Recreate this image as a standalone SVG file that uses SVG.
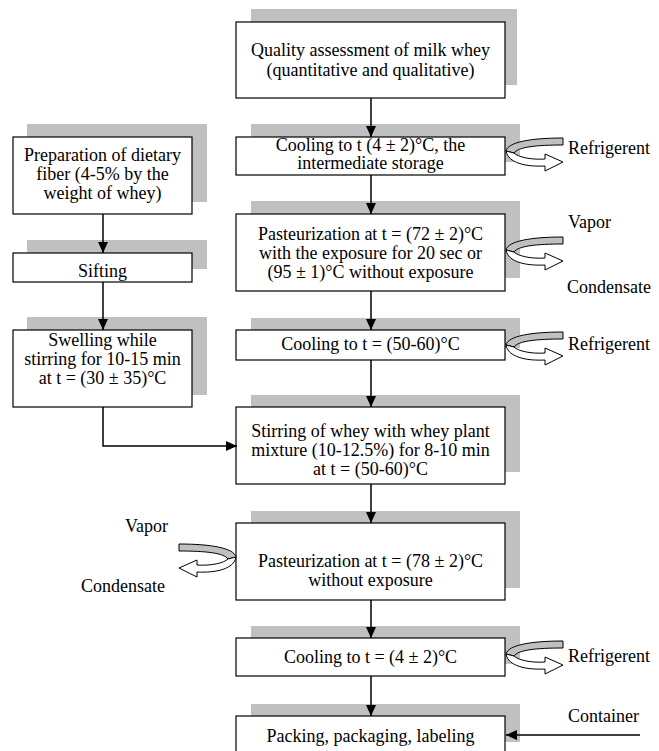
<svg xmlns="http://www.w3.org/2000/svg" xmlns:xlink="http://www.w3.org/1999/xlink" width="659" height="751" viewBox="0 0 659 751">
<style>
.sh{fill:#c0c0c0;stroke:none}
.bx{fill:#fff;stroke:#000;stroke-width:1.2}
.t{font-family:"Liberation Serif","Times New Roman",serif;font-size:18px;fill:#000}
.m{text-anchor:middle}
.e{text-anchor:end}
.c{fill:none;stroke:#000;stroke-width:1.5}
</style>
<defs>
<marker id="ah" markerUnits="userSpaceOnUse" markerWidth="12" markerHeight="12" viewBox="0 0 12 12" refX="11" refY="6" orient="auto">
<path d="M0,1 L11,6 L0,11 Z" fill="#000"/>
</marker>
<g id="curl" stroke="#000" stroke-width="1" stroke-linejoin="round">
<path d="M57,-13 C25,-13 2,-9 0,0 L8,2 C12,-4 30,-6 57,-6 Z" fill="#c0c0c0"/>
<path d="M0,0 C2,12 20,16 39,15 L39,20 L57,11 L39,3 L39,8 C25,9 12,6 8,2 Z" fill="#fff"/>
</g>
</defs>
<rect width="659" height="751" fill="#fff"/>

<g id="quality">
<rect class="sh" x="251" y="9" width="266" height="76"/>
<rect class="bx" x="236" y="22" width="269" height="76"/>
<text class="t m" x="370.5" y="56">Quality assessment of milk whey</text>
<text class="t m" x="370.5" y="76">(quantitative and qualitative)</text>
</g>

<g id="cooling1">
<rect class="sh" x="251" y="124" width="269" height="38"/>
<rect class="bx" x="236" y="137" width="269" height="38"/>
<text class="t m" x="370.5" y="151">Cooling to t (4 ± 2)°C, the</text>
<text class="t m" x="370.5" y="169">intermediate storage</text>
</g>

<g id="past1">
<rect class="sh" x="251" y="201" width="269" height="77"/>
<rect class="bx" x="236" y="214" width="269" height="77"/>
<text class="t m" x="370.5" y="240">Pasteurization at t = (72 ± 2)°C</text>
<text class="t m" x="370.5" y="259">with the exposure for 20 sec or</text>
<text class="t m" x="370.5" y="278">(95 ± 1)°C without exposure</text>
</g>

<g id="cooling2">
<rect class="sh" x="251" y="318" width="269" height="30"/>
<rect class="bx" x="236" y="330" width="269" height="30"/>
<text class="t m" x="370.5" y="350">Cooling to t = (50-60)°C</text>
</g>

<g id="stirring">
<rect class="sh" x="251" y="395" width="269" height="77"/>
<rect class="bx" x="236" y="407" width="269" height="77"/>
<text class="t m" x="370.5" y="437">Stirring of whey with whey plant</text>
<text class="t m" x="370.5" y="456">mixture (10-12.5%) for 8-10 min</text>
<text class="t m" x="370.5" y="475">at t = (50-60)°C</text>
</g>

<g id="past2">
<rect class="sh" x="251" y="511" width="269" height="77"/>
<rect class="bx" x="236" y="523" width="269" height="77"/>
<text class="t m" x="370.5" y="567">Pasteurization at t = (78 ± 2)°C</text>
<text class="t m" x="370.5" y="586">without exposure</text>
</g>

<g id="cooling3">
<rect class="sh" x="251" y="626" width="269" height="38"/>
<rect class="bx" x="236" y="638" width="269" height="38"/>
<text class="t m" x="370.5" y="663">Cooling to t = (4 ± 2)°C</text>
</g>

<g id="packing">
<rect class="sh" x="251" y="704" width="269" height="38"/>
<rect class="bx" x="236" y="716" width="269" height="40"/>
<text class="t m" x="370.5" y="742">Packing, packaging, labeling</text>
</g>

<g id="fiber">
<rect class="sh" x="27" y="124" width="180" height="78"/>
<rect class="bx" x="13" y="137" width="179" height="77"/>
<text class="t m" x="102.5" y="161">Preparation of dietary</text>
<text class="t m" x="102.5" y="180">fiber (4-5% by the</text>
<text class="t m" x="102.5" y="199">weight of whey)</text>
</g>

<g id="sifting">
<rect class="sh" x="27" y="240" width="180" height="29"/>
<rect class="bx" x="13" y="253" width="179" height="29"/>
<text class="t m" x="102.5" y="277">Sifting</text>
</g>

<g id="swelling">
<rect class="sh" x="27" y="317" width="180" height="78"/>
<rect class="bx" x="13" y="330" width="179" height="77"/>
<text class="t m" x="102.5" y="346">Swelling while</text>
<text class="t m" x="102.5" y="365">stirring for 10-15 min</text>
<text class="t m" x="102.5" y="384">at t = (30 ± 35)°C</text>
</g>

<g id="flows">
<use xlink:href="#curl" href="#curl" transform="translate(506,151)"/>
<text class="t" x="568" y="154">Refrigerent</text>
<use xlink:href="#curl" href="#curl" transform="translate(506,250)"/>
<text class="t" x="568" y="228">Vapor</text>
<text class="t" x="567" y="293">Condensate</text>
<use xlink:href="#curl" href="#curl" transform="translate(506,345)"/>
<text class="t" x="568" y="350">Refrigerent</text>
<use xlink:href="#curl" href="#curl" transform="translate(236,557) scale(-1,1)"/>
<text class="t" x="125" y="532">Vapor</text>
<text class="t e" x="165" y="592">Condensate</text>
<use xlink:href="#curl" href="#curl" transform="translate(506,654)"/>
<text class="t" x="568" y="662">Refrigerent</text>
<text class="t" x="568" y="722">Container</text>
</g>

<g id="connectors">
<path class="c" d="M371,98 V137" marker-end="url(#ah)"/>
<path class="c" d="M371,175 V214" marker-end="url(#ah)"/>
<path class="c" d="M371,291 V330" marker-end="url(#ah)"/>
<path class="c" d="M371,360 V407" marker-end="url(#ah)"/>
<path class="c" d="M371,484 V523" marker-end="url(#ah)"/>
<path class="c" d="M371,600 V638" marker-end="url(#ah)"/>
<path class="c" d="M371,676 V716" marker-end="url(#ah)"/>
<path class="c" d="M103,214 V253" marker-end="url(#ah)"/>
<path class="c" d="M103,282 V330" marker-end="url(#ah)"/>
<path class="c" d="M103,407 V446 H237" marker-end="url(#ah)"/>
<path class="c" d="M640,735 H506" marker-end="url(#ah)"/>
</g>
</svg>
